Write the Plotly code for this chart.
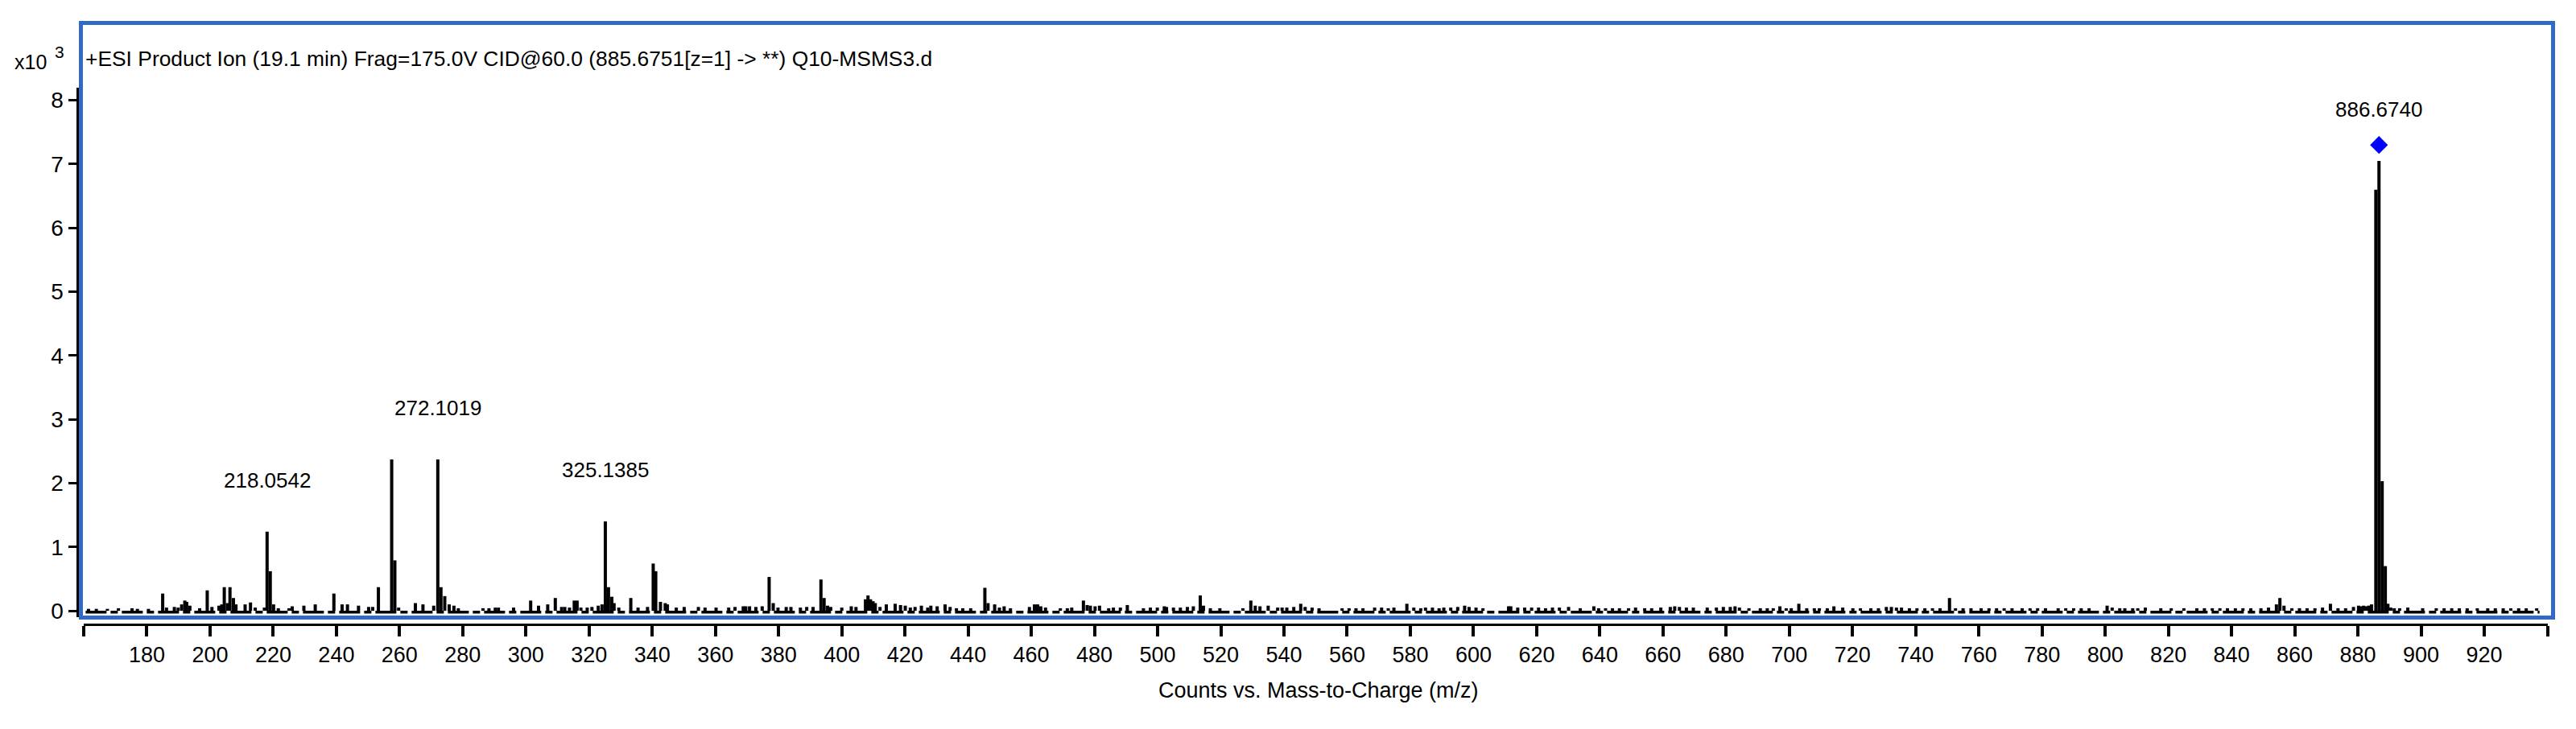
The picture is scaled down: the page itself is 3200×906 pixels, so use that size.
import plotly.graph_objects as go

# ---------------- data (m/z, counts x10^3) ----------------
mz_low = [161.5, 164.0, 167.5, 171.0, 175.3, 177.0, 180.5, 185.0, 186.2, 188.7,
          189.9, 191.0, 192.0, 192.6, 193.6, 196.7, 199.1, 200.6, 202.8, 203.7,
          204.5, 205.5, 206.3, 207.4, 208.2, 211.1, 212.8, 214.3, 217.2, 218.0542,
          219.06, 220.1, 221.6, 225.0, 226.0, 229.7, 233.3, 239.2, 241.8, 243.5,
          247.0, 250.2, 251.5, 253.3, 257.5, 258.5, 259.7, 265.0, 267.4, 270.8,
          272.1019, 273.1, 274.3, 275.7, 277.2, 278.6, 286.4, 288.3, 290.3, 291.3,
          296.1, 301.5, 304.0, 306.9, 309.3]
int_low = [0.03, 0.03, 0.03, 0.04, 0.04, 0.03, 0.03, 0.27, 0.05, 0.06,
           0.05, 0.10, 0.16, 0.14, 0.08, 0.04, 0.32, 0.06, 0.08, 0.10,
           0.37, 0.12, 0.37, 0.20, 0.10, 0.10, 0.13, 0.05, 0.05, 1.24,
           0.62, 0.10, 0.04, 0.04, 0.07, 0.08, 0.10, 0.27, 0.10, 0.10,
           0.08, 0.06, 0.06, 0.37, 2.37, 0.79, 0.05, 0.12, 0.10, 0.08,
           2.37, 0.37, 0.23, 0.10, 0.08, 0.04, 0.04, 0.04, 0.05, 0.05,
           0.05, 0.16, 0.08, 0.10, 0.20]

mz_mid = [311.3, 312.3, 313.8, 315.3, 316.2, 317.4, 319.4, 320.9, 322.9, 324.1,
          325.1385, 325.7, 326.14, 327.2, 327.9, 329.4, 333.2, 335.5, 338.5, 340.3,
          341.1, 342.6, 344.1, 344.8, 347.6, 350.1, 354.6, 356.7, 360.2, 364.2,
          366.2, 368.8, 369.6, 370.8, 372.8, 374.8, 377.0, 378.3, 379.8, 382.4,
          383.9, 386.9, 388.9, 390.9, 393.4, 394.4, 395.5, 396.5, 400.0, 403.0,
          404.5, 407.5, 408.3, 409.1, 409.9, 410.6, 412.1, 414.1, 416.9, 418.6,
          420.1, 421.7, 423.2, 425.2, 427.2, 428.2, 430.2, 432.7, 434.3, 436.3,
          438.3, 440.8, 445.3, 446.3, 448.4, 449.9, 451.4, 453.4, 459.4, 461.0,
          462.0, 463.0, 464.5]
int_mid = [0.06, 0.06, 0.05, 0.16, 0.16, 0.05, 0.05, 0.06, 0.08, 0.10,
           1.40, 0.12, 0.37, 0.22, 0.12, 0.05, 0.20, 0.05, 0.06, 0.74,
           0.62, 0.14, 0.12, 0.10, 0.05, 0.06, 0.06, 0.05, 0.05, 0.05,
           0.06, 0.07, 0.07, 0.07, 0.06, 0.07, 0.53, 0.12, 0.05, 0.06,
           0.06, 0.05, 0.06, 0.06, 0.49, 0.20, 0.08, 0.06, 0.05, 0.07,
           0.06, 0.18, 0.24, 0.18, 0.15, 0.12, 0.06, 0.10, 0.11, 0.09,
           0.08, 0.05, 0.06, 0.08, 0.05, 0.08, 0.07, 0.10, 0.06, 0.04,
           0.04, 0.04, 0.36, 0.12, 0.10, 0.05, 0.07, 0.04, 0.06, 0.10,
           0.10, 0.07, 0.05]

mz_high1 = [469.2, 471.4, 472.8, 476.5, 477.7, 478.7, 480.2, 481.6, 484.5, 486.0,
            488.2, 490.4, 495.5, 497.7, 499.9, 502.1, 502.8, 505.0, 507.2, 509.4,
            511.3, 513.5, 514.5, 516.7, 519.7, 527.0, 529.5, 530.9, 532.4, 535.0,
            538.0, 539.4, 540.9, 543.1, 545.3, 546.7, 548.9, 551.1, 558.4, 560.6,
            562.8, 565.0, 568.7, 570.9, 573.0, 574.8, 578.9, 581.1, 583.3, 584.8,
            587.0, 589.1, 590.6, 592.8, 595.0, 597.2, 598.6, 600.8, 603.0, 611.1,
            611.8, 614.0, 616.2, 618.4, 620.6, 622.8, 625.0, 627.2, 630.1, 633.8,
            638.1, 639.6, 641.8, 644.0, 646.2, 649.1, 651.3, 654.2, 656.4, 659.3,
            662.3, 663.7, 665.2, 667.4, 669.6, 674.0, 676.9, 679.1, 681.3, 682.8,
            684.2, 687.2, 690.8, 693.0]
int_high1 = [0.04, 0.04, 0.05, 0.16, 0.09, 0.08, 0.07, 0.08, 0.04, 0.05,
             0.05, 0.09, 0.04, 0.05, 0.05, 0.07, 0.06, 0.05, 0.05, 0.06,
             0.07, 0.24, 0.08, 0.04, 0.04, 0.04, 0.16, 0.08, 0.07, 0.08,
             0.05, 0.05, 0.05, 0.06, 0.11, 0.06, 0.05, 0.04, 0.04, 0.04,
             0.04, 0.04, 0.05, 0.05, 0.04, 0.05, 0.11, 0.05, 0.04, 0.05,
             0.05, 0.04, 0.05, 0.05, 0.06, 0.08, 0.06, 0.05, 0.04, 0.07,
             0.07, 0.05, 0.05, 0.05, 0.05, 0.04, 0.05, 0.05, 0.06, 0.04,
             0.07, 0.04, 0.04, 0.04, 0.04, 0.04, 0.05, 0.04, 0.04, 0.05,
             0.06, 0.07, 0.06, 0.05, 0.05, 0.05, 0.05, 0.06, 0.06, 0.07,
             0.05, 0.04, 0.04, 0.04]

mz_high2 = [694.9, 697.0, 699.0, 700.6, 703.0, 705.5, 707.9, 709.5, 712.0, 714.1,
            716.9, 720.1, 722.5, 725.8, 728.2, 730.7, 732.3, 733.9, 735.5, 738.0,
            740.4, 742.9, 745.3, 747.7, 750.7, 752.6, 755.0, 757.5, 760.7, 763.2,
            765.6, 768.0, 770.5, 773.7, 776.2, 778.6, 781.1, 785.1, 787.5, 790.0,
            792.4, 794.9, 800.6, 802.2, 804.6, 806.2, 808.7, 810.3, 812.7, 817.6,
            820.9, 824.9, 829.0, 831.4, 833.9, 836.3, 838.7, 841.2, 843.6, 846.1,
            849.3, 851.7, 854.2, 855.3, 856.6, 859.1, 861.5, 863.9, 866.4, 868.8,
            871.3, 873.7, 876.1, 878.6, 880.2, 881.0, 881.8, 882.6, 883.4, 884.3,
            885.68, 886.6740, 887.68, 888.68, 889.5, 890.4, 891.5, 893.2, 895.8, 900.5,
            904.8, 907.3, 909.7, 912.1, 914.6, 917.8, 921.1, 923.5, 926.0, 928.4,
            930.9, 933.3, 936.6]
int_high2 = [0.04, 0.07, 0.04, 0.04, 0.11, 0.04, 0.04, 0.04, 0.04, 0.07,
             0.05, 0.04, 0.04, 0.04, 0.04, 0.06, 0.06, 0.05, 0.05, 0.04,
             0.04, 0.04, 0.04, 0.04, 0.20, 0.04, 0.04, 0.04, 0.04, 0.04,
             0.04, 0.04, 0.04, 0.04, 0.04, 0.04, 0.04, 0.04, 0.04, 0.04,
             0.04, 0.04, 0.08, 0.05, 0.04, 0.04, 0.04, 0.04, 0.05, 0.04,
             0.04, 0.04, 0.04, 0.04, 0.04, 0.04, 0.04, 0.04, 0.04, 0.04,
             0.04, 0.05, 0.10, 0.20, 0.08, 0.04, 0.04, 0.04, 0.04, 0.05,
             0.11, 0.04, 0.04, 0.06, 0.08, 0.07, 0.08, 0.07, 0.08, 0.10,
             6.60, 7.05, 2.03, 0.70, 0.11, 0.05, 0.04, 0.04, 0.05, 0.04,
             0.04, 0.04, 0.04, 0.04, 0.04, 0.04, 0.04, 0.04, 0.04, 0.04,
             0.04, 0.04, 0.04]

labeled_mz = [218.0542, 272.1019, 325.1385, 886.6740]
precursor_mz = 886.6740

x_ticks = list(range(160, 941, 20))
y_ticks = list(range(0, 9))

title_text = "+ESI Product Ion (19.1 min) Frag=175.0V CID@60.0 (885.6751[z=1] -> **) Q10-MSMS3.d"
x_title = "Counts vs. Mass-to-Charge (m/z)"

# ---------------- layout geometry (screen pixels; page body adds 8px offset) ----------------
W, H = 3200, 906
OFF = 8
ML, MR, MT, MB = 82, 30, 12, 120
PW = W - ML - MR
PH = H - MT - MB


def fx(px):
    return (px - OFF - ML) / PW


def fy(py):
    return 1 - (py - OFF - MT) / PH


FONT = "Liberation Sans, Arial, sans-serif"
BLUE = "#316AC5"

mz_all = mz_low + mz_mid + mz_high1 + mz_high2
int_all = int_low + int_mid + int_high1 + int_high2
peaks = dict(zip(mz_all, int_all))

xs, ys = [], []
for m, h in zip(mz_all, int_all):
    xs += [m, m, None]
    ys += [0, h, None]

fig = go.Figure()
# baseline (noise floor)
fig.add_trace(go.Scatter(x=[160.6, 937.5], y=[-0.02, -0.02], mode="lines",
                         line=dict(color="black", width=3.5, dash="26px,5px,9px,5px"),
                         hoverinfo="skip"))
# sticks
fig.add_trace(go.Scatter(x=xs, y=ys, mode="lines",
                         line=dict(color="black", width=4), hoverinfo="skip"))
# precursor marker
fig.add_trace(go.Scatter(x=[precursor_mz], y=[peaks[precursor_mz] + 0.25], mode="markers",
                         marker=dict(symbol="diamond", size=17, color="#0000FF"),
                         hoverinfo="skip"))

annotations = []
for m in labeled_mz:
    annotations.append(dict(x=m, y=peaks[m], xref="x", yref="y", yshift=64,
                            text=f"{m:.4f}", showarrow=False, yanchor="middle",
                            xanchor="center", font=dict(family=FONT, size=26, color="black")))
annotations.append(dict(x=fx(104), y=fy(73), xref="paper", yref="paper", text=title_text,
                        showarrow=False, xanchor="left", yanchor="middle",
                        font=dict(family=FONT, size=26.4, color="black")))
annotations.append(dict(x=fx(16), y=fy(77), xref="paper", yref="paper", text="x10",
                        showarrow=False, xanchor="left", yanchor="middle",
                        font=dict(family=FONT, size=25, color="black")))
annotations.append(dict(x=fx(66), y=fy(65), xref="paper", yref="paper", text="3",
                        showarrow=False, xanchor="left", yanchor="middle",
                        font=dict(family=FONT, size=21, color="black")))
annotations.append(dict(x=fx(1638), y=fy(858), xref="paper", yref="paper", text=x_title,
                        showarrow=False, xanchor="center", yanchor="middle",
                        font=dict(family=FONT, size=27, color="black")))

fig.update_layout(
    width=W, height=H,
    margin=dict(l=ML, r=MR, t=MT, b=MB),
    paper_bgcolor="white", plot_bgcolor="white",
    showlegend=False, hovermode=False,
    font=dict(family=FONT, size=27, color="black"),
    xaxis=dict(domain=[fx(104), fx(3164.5)], range=[160, 940], anchor="free",
               position=fy(776), showline=True, linecolor="black", linewidth=3,
               ticks="outside", ticklen=13, tickwidth=4, tickcolor="black",
               tickvals=x_ticks,
               ticktext=["" if v in (160, 940) else str(v) for v in x_ticks],
               tickfont=dict(family=FONT, size=27, color="black"),
               showgrid=False, zeroline=False),
    yaxis=dict(domain=[fy(767), fy(109)], range=[-0.1, 8.197], anchor="free",
               position=fx(96.5), showline=True, linecolor="black", linewidth=4,
               ticks="outside", ticklen=10, tickwidth=3, tickcolor="black",
               tickvals=y_ticks, ticktext=[str(v) for v in y_ticks],
               tickfont=dict(family=FONT, size=28, color="black"),
               showgrid=False, zeroline=False),
    annotations=annotations,
    shapes=[dict(type="rect", xref="paper", yref="paper",
                 x0=fx(100.5), x1=fx(3171.5), y0=fy(767.5), y1=fy(28.5),
                 line=dict(color=BLUE, width=5), layer="above")],
)

fig.write_html("out.html")
